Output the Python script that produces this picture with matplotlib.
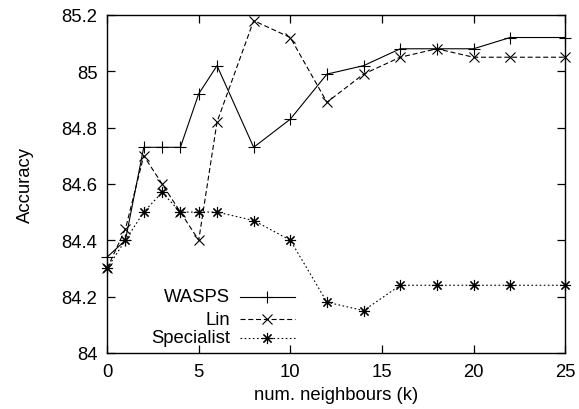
import numpy as np
import matplotlib
matplotlib.use("Agg")
import matplotlib.pyplot as plt

plt.rcParams['font.family'] = ['Liberation Sans', 'DejaVu Sans']

# neighbours (k)
k = [0, 1, 2, 3, 4, 5, 6, 8, 10, 12, 14, 16, 18, 20, 22, 25]

wasps = [84.34, 84.40, 84.73, 84.73, 84.73, 84.92, 85.02, 84.73,
         84.83, 84.99, 85.02, 85.08, 85.08, 85.08, 85.12, 85.12]
lin = [84.30, 84.44, 84.70, 84.60, 84.50, 84.40, 84.82, 85.18,
       85.12, 84.89, 84.99, 85.05, 85.08, 85.05, 85.05, 85.05]
specialist = [84.30, 84.40, 84.50, 84.57, 84.50, 84.50, 84.50, 84.47,
              84.40, 84.18, 84.15, 84.24, 84.24, 84.24, 84.24, 84.24]

series_names = ["WASPS", "Lin", "Specialist"]
x_ticks = [0, 5, 10, 15, 20, 25]
y_ticks = [84, 84.2, 84.4, 84.6, 84.8, 85, 85.2]
y_labels = ["84", "84.2", "84.4", "84.6", "84.8", "85", "85.2"]

fs = 13.3

fig = plt.figure(figsize=(5.79, 4.10), dpi=100)
ax = fig.add_axes([0.185, 0.137, 0.791, 0.824])

lw = 0.8
asterisk = (8, 2, 0)
styles = [
    dict(ls='-', marker='+', ms=8),
    dict(ls=(0, (4.5, 2.5)), marker='x', ms=7),
    dict(ls=(0, (1.5, 2.2)), marker=asterisk, ms=8),
]

for ys, st in zip([wasps, lin, specialist], styles):
    ax.plot(k, ys, color='black', lw=lw, mew=0.8, clip_on=False,
            linestyle=st['ls'], marker=st['marker'], markersize=st['ms'])

ax.set_xlim(0, 25)
ax.set_ylim(84, 85.2)
ax.set_xticks(x_ticks)
ax.set_yticks(y_ticks)
ax.set_yticklabels(y_labels)
ax.tick_params(direction='in', length=6, width=0.9, top=True, right=True,
               labelsize=fs, pad=7)
for s in ax.spines.values():
    s.set_linewidth(1.0)

ax.set_xlabel("num. neighbours (k)", fontsize=fs, labelpad=5)
ax.set_ylabel("Accuracy", fontsize=fs, labelpad=20)

# gnuplot style key: right-aligned text then sample
key_y = [0.166, 0.100, 0.044]
for name, st, yy in zip(series_names, styles, key_y):
    ax.text(0.269, yy, name, transform=ax.transAxes, ha='right',
            va='center', fontsize=fs)
    ax.plot([0.290, 0.410], [yy, yy], transform=ax.transAxes,
            color='black', lw=lw, linestyle=st['ls'])
    ax.plot([0.350], [yy], transform=ax.transAxes, color='black',
            marker=st['marker'], markersize=st['ms'], mew=0.8, ls='none')

fig.savefig("out.png", dpi=100)
